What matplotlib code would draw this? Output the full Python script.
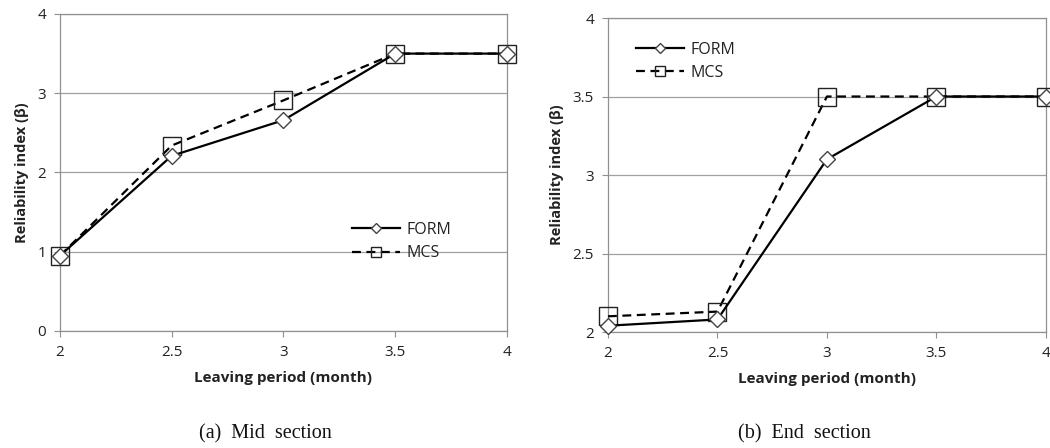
import matplotlib
matplotlib.use("Agg")
import matplotlib.pyplot as plt

# leaving period (month)
period = [2, 2.5, 3, 3.5, 4]

# (a) mid section
mid_form = [0.95, 2.21, 2.66, 3.5, 3.5]
mid_mcs = [0.95, 2.34, 2.91, 3.5, 3.5]

# (b) end section
end_form = [2.04, 2.08, 3.1, 3.5, 3.5]
end_mcs = [2.1, 2.13, 3.5, 3.5, 3.5]

plt.rcParams['font.family'] = ['Open Sans', 'DejaVu Sans']

fig = plt.figure(figsize=(10.5, 4.48), dpi=100)
ax1 = fig.add_axes([0.0571, 0.2612, 0.4257, 0.7076])
ax2 = fig.add_axes([0.579, 0.2589, 0.4171, 0.7009])


def draw(ax, form, mcs, ylim, yticks, legend_loc):
    ax.plot(period, form, color='black', lw=1.6, marker='D', ms=8,
            mfc='white', mec='#444444', mew=1.0, label='FORM', clip_on=False, zorder=4)
    ax.plot(period, mcs, color='black', lw=1.6, ls=(0, (4, 2.5)), marker='s', ms=13,
            mfc='none', mec='#222222', mew=1.0, label='MCS', clip_on=False, zorder=3)
    ax.set_xlim(2, 4)
    ax.set_ylim(*ylim)
    ax.set_xticks(period)
    ax.set_xticklabels(['2', '2.5', '3', '3.5', '4'])
    ax.set_yticks(yticks)
    ax.set_yticklabels([f'{v:g}' for v in yticks])
    ax.yaxis.grid(True, color='#a0a0a0', lw=0.9)
    ax.set_axisbelow(True)
    for s in ax.spines.values():
        s.set_color('#909090')
        s.set_linewidth(0.9)
    ax.tick_params(axis='both', color='#909090', length=4, labelsize=11,
                   labelcolor='#222222', pad=6)
    ax.set_xlabel('Leaving period (month)', fontsize=11, fontweight='bold',
                  color='#222222', labelpad=8)
    ax.set_ylabel('Reliability index (β)', fontsize=10.5, fontweight='bold',
                  color='#222222', labelpad=6)
    leg = ax.legend(loc=legend_loc, frameon=False, fontsize=11.5, markerscale=0.6,
                    handlelength=3.0, handletextpad=0.4, labelspacing=0.45)
    for t in leg.get_texts():
        t.set_color('#222222')


draw(ax1, mid_form, mid_mcs, (0, 4), [0, 1, 2, 3, 4], (0.64, 0.2))
draw(ax2, end_form, end_mcs, (2, 4), [2, 2.5, 3, 3.5, 4], (0.05, 0.78))

fig.text(0.2524, 0.022, '(a)  Mid  section', family='Liberation Serif', fontsize=14.5,
         ha='center', color='#111111')
fig.text(0.766, 0.022, '(b)  End  section', family='Liberation Serif', fontsize=14.5,
         ha='center', color='#111111')

fig.savefig('out.png', dpi=100)
